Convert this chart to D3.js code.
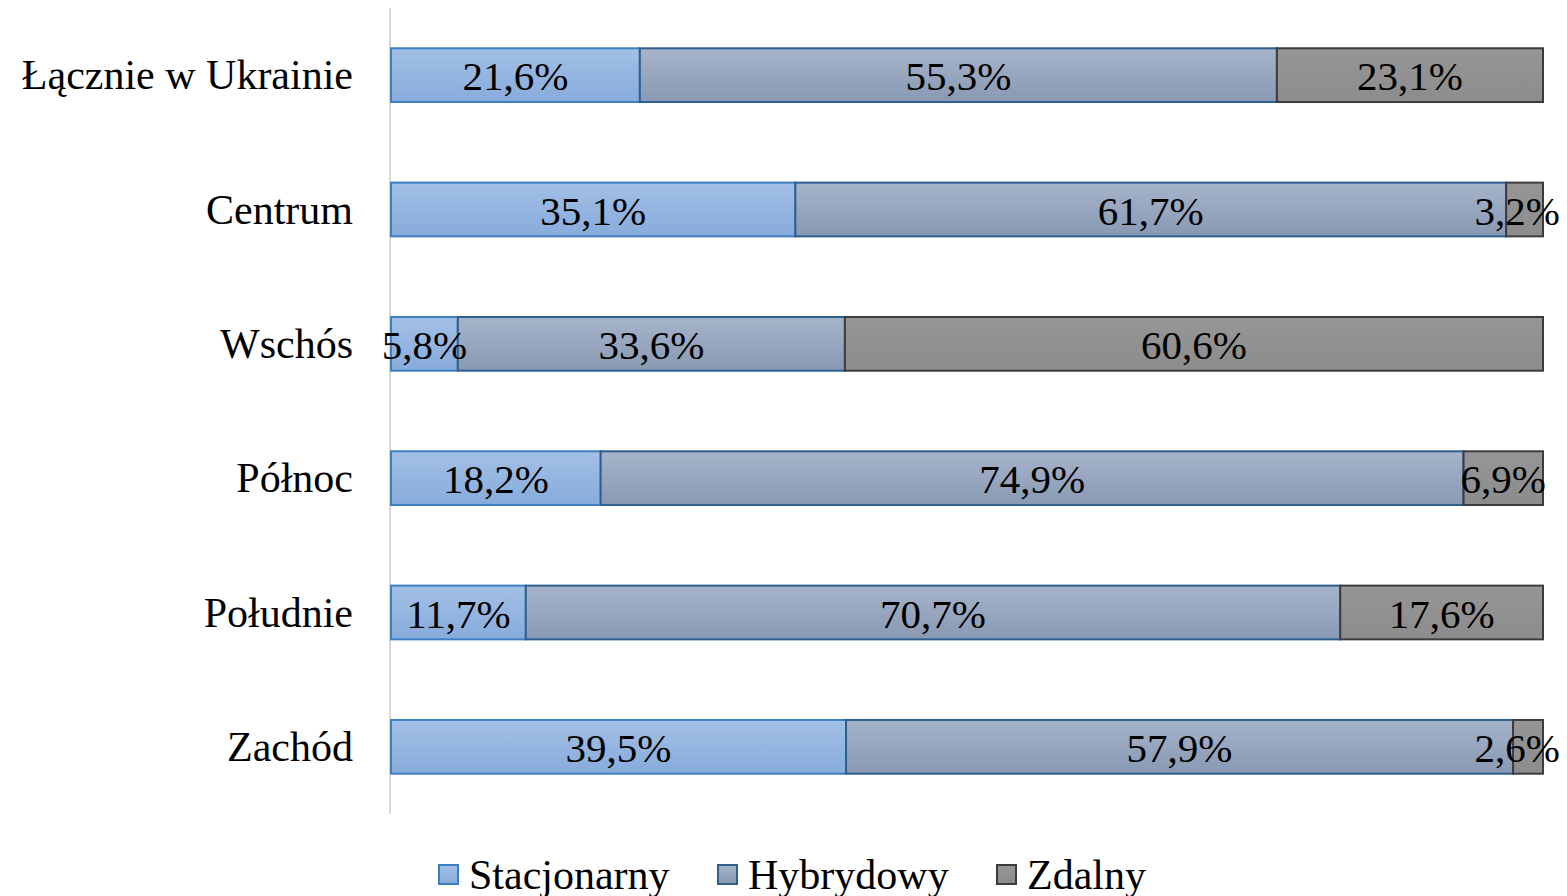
<!DOCTYPE html>
<html lang="pl">
<head>
<meta charset="UTF-8">
<title>Tryb pracy wg regionu</title>
<script src="https://cdn.jsdelivr.net/npm/d3@7"></script>
<style>
    body { margin: 0; background: #fff; }
    text { font-family: "Liberation Serif", "Times New Roman", serif; fill: #000; }
</style>
</head>
<body>
<div id="chart"></div>
<script>
    const regions = ["Łącznie w Ukrainie", "Centrum", "Wschós", "Północ", "Południe", "Zachód"];
    const seriesNames = ["Stacjonarny", "Hybrydowy", "Zdalny"];
    const stacjonarny = [21.6, 35.1, 5.8, 18.2, 11.7, 39.5];
    const hybrydowy = [55.3, 61.7, 33.6, 74.9, 70.7, 57.9];
    const zdalny = [23.1, 3.2, 60.6, 6.9, 17.6, 2.6];

    const width = 1567, height = 896;
    const X0 = 391, X1 = 1543;
    const RIGHT_LIMIT = 1560;

    const rows = regions.map(function (r, i) {
        return { region: r, Stacjonarny: stacjonarny[i], Hybrydowy: hybrydowy[i], Zdalny: zdalny[i] };
    });

    const svg = d3.select("#chart").append("svg")
        .attr("width", width).attr("height", height);

    const styles = {
        Stacjonarny: { top: "#a3c0e6", bottom: "#87abdb", stroke: "#3d7fc1" },
        Hybrydowy: { top: "#a6b4ca", bottom: "#8999b3", stroke: "#2f5f8f" },
        Zdalny: { top: "#969696", bottom: "#8c8c8c", stroke: "#3c3c3c" }
    };

    const defs = svg.append("defs");
    seriesNames.forEach(function (s, i) {
        const g = defs.append("linearGradient")
            .attr("id", "grad" + i)
            .attr("x1", 0).attr("y1", 0).attr("x2", 0).attr("y2", 1);
        g.append("stop").attr("offset", "0%").attr("stop-color", styles[s].top);
        g.append("stop").attr("offset", "100%").attr("stop-color", styles[s].bottom);
    });

    const x = d3.scaleLinear().domain([0, 100]).range([X0, X1]);
    const y = d3.scaleBand().domain(regions).range([8, 814])
        .paddingInner(0.6).paddingOuter(0.3);

    // axis line
    svg.append("line")
        .attr("x1", X0 - 1).attr("x2", X0 - 1)
        .attr("y1", 8).attr("y2", 814)
        .attr("stroke", "#d9d9d9").attr("stroke-width", 2);

    const stacked = d3.stack().keys(seriesNames)(rows);

    stacked.forEach(function (layer, i) {
        const g = svg.append("g");
        g.selectAll("rect")
            .data(layer)
            .join("rect")
            .attr("x", function (d) { return x(d[0]); })
            .attr("y", function (d) { return y(d.data.region); })
            .attr("width", function (d) { return x(d[1]) - x(d[0]); })
            .attr("height", y.bandwidth())
            .attr("fill", "url(#grad" + i + ")")
            .attr("stroke", styles[layer.key].stroke)
            .attr("stroke-width", 2);
    });

    stacked.forEach(function (layer) {
        svg.append("g").selectAll("text")
            .data(layer)
            .join("text")
            .attr("x", function (d) { return (x(d[0]) + x(d[1])) / 2; })
            .attr("y", function (d) { return y(d.data.region) + y.bandwidth() / 2 + 15; })
            .attr("text-anchor", "middle")
            .style("font-size", "41px")
            .text(function (d) { return (d[1] - d[0]).toFixed(1).replace(".", ",") + "%"; })
            .each(function () {
                // keep labels inside the chart area, like the original
                const b = this.getBBox();
                const over = b.x + b.width - RIGHT_LIMIT;
                if (over > 0) d3.select(this).attr("x", +d3.select(this).attr("x") - over);
            });
    });

    // category labels
    svg.append("g").selectAll("text")
        .data(regions)
        .join("text")
        .attr("x", 353)
        .attr("y", function (d) { return y(d) + y.bandwidth() / 2 + 14; })
        .attr("text-anchor", "end")
        .style("font-size", "42px")
        .text(function (d) { return d; });

    // legend
    const legendX = [439, 718, 997];
    const legend = svg.append("g");
    seriesNames.forEach(function (s, i) {
        legend.append("rect")
            .attr("x", legendX[i]).attr("y", 865)
            .attr("width", 19).attr("height", 19)
            .attr("fill", "url(#grad" + i + ")")
            .attr("stroke", styles[s].stroke)
            .attr("stroke-width", 2);
        legend.append("text")
            .attr("x", legendX[i] + 30).attr("y", 889)
            .style("font-size", "42px")
            .text(s);
    });
</script>
</body>
</html>
